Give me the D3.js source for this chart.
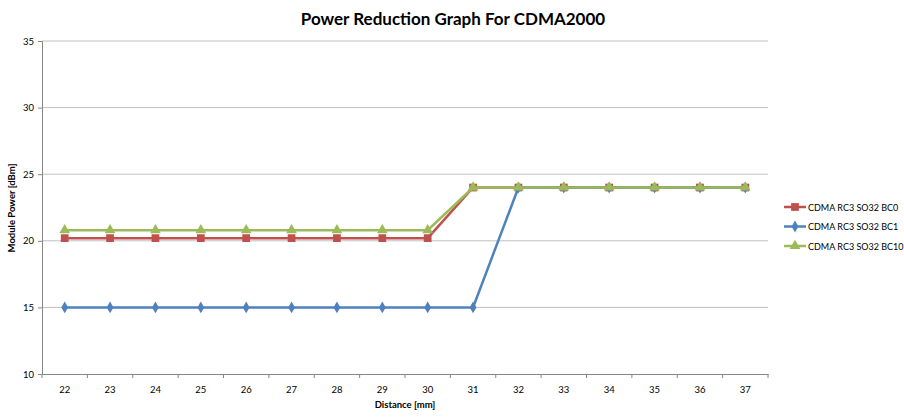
<!DOCTYPE html>
<html><head><meta charset="utf-8">
<script src="https://cdn.jsdelivr.net/npm/d3@7"></script>
<style>body{margin:0;background:#fff}svg{display:block;font-family:Lato,"Open Sans",sans-serif}</style>
</head><body><svg id="c" width="904" height="419"></svg>
<script>
const categories = [22,23,24,25,26,27,28,29,30,31,32,33,34,35,36,37];
const bc0 = [20.2,20.2,20.2,20.2,20.2,20.2,20.2,20.2,20.2,24,24,24,24,24,24,24];
const bc1 = [15,15,15,15,15,15,15,15,15,15,24,24,24,24,24,24];
const bc10 = [20.8,20.8,20.8,20.8,20.8,20.8,20.8,20.8,20.8,24,24,24,24,24,24,24];
const yTicks = [10,15,20,25,30,35];
const seriesNames = ["CDMA RC3 SO32 BC0","CDMA RC3 SO32 BC1","CDMA RC3 SO32 BC10"];
const colors = ["#c0504d","#4f81bd","#9bbb59"];
const shapes = ["square","diamond","triangle"];

const svg = d3.select("#c");
const L=42,R=768,T=41,B=374;
const x = d3.scaleBand().domain(categories).range([L,R]);
const y = d3.scaleLinear().domain([10,35]).range([B,T]);

svg.append("g").selectAll("line").data(yTicks.filter(d=>d>10)).join("line")
 .attr("x1",L).attr("x2",R).attr("y1",d=>y(d)).attr("y2",d=>y(d))
 .attr("stroke","#c0c0c0").attr("stroke-width",1);

const ya = svg.append("g").attr("transform",`translate(${L},0)`)
 .call(d3.axisLeft(y).tickValues(yTicks).tickSize(4).tickPadding(4));
ya.select(".domain").attr("stroke","#868686");
ya.selectAll(".tick line").attr("stroke","#868686");
ya.selectAll("text").attr("font-size",9.5).attr("fill","#000").attr("font-family","Lato,sans-serif");

const xa = svg.append("g").attr("transform",`translate(0,${B})`)
 .call(d3.axisBottom(x).tickSize(0).tickPadding(12));
xa.select(".domain").attr("stroke","#868686");
xa.selectAll("text").attr("font-size",9.5).attr("fill","#000").attr("font-family","Lato,sans-serif");
const bounds = categories.map(c=>x(c)).concat([R]);
xa.append("g").selectAll("line").data(bounds).join("line")
 .attr("x1",d=>d).attr("x2",d=>d).attr("y1",0).attr("y2",4).attr("stroke","#868686");

const cx = d=>x(d)+x.bandwidth()/2;
const data = [bc0,bc1,bc10];
const sym = {square:d3.symbolSquare,diamond:d3.symbolDiamond,triangle:d3.symbolTriangle};
const sizes = {square:60,diamond:40,triangle:50};
const line = d3.line().x((d,i)=>cx(categories[i])).y(d=>y(d));
data.forEach((vals,k)=>{
  const g = svg.append("g");
  g.append("path").datum(vals).attr("d",line).attr("fill","none")
   .attr("stroke",colors[k]).attr("stroke-width",2.5);
  g.selectAll("path.m").data(vals).join("path").attr("class","m")
   .attr("d",d3.symbol().type(sym[shapes[k]]).size(sizes[shapes[k]]))
   .attr("transform",(d,i)=>`translate(${cx(categories[i])},${y(d)})`)
   .attr("fill",colors[k]);
});

const lg = svg.append("g");
seriesNames.forEach((n,k)=>{
  const ly = 207 + k*19.5;
  lg.append("line").attr("x1",784).attr("x2",806).attr("y1",ly).attr("y2",ly)
   .attr("stroke",colors[k]).attr("stroke-width",2.5);
  lg.append("path").attr("d",d3.symbol().type(sym[shapes[k]]).size(sizes[shapes[k]]))
   .attr("transform",`translate(795,${ly})`).attr("fill",colors[k]);
  lg.append("text").attr("x",808).attr("y",ly+3.5).attr("font-size",9).text(n);
});

svg.append("text").attr("x",453).attr("y",25).attr("text-anchor","middle")
 .attr("font-size",17).attr("font-weight","bold").text("Power Reduction Graph For CDMA2000");
svg.append("text").attr("x",405).attr("y",408).attr("text-anchor","middle")
 .attr("font-size",9.5).attr("font-weight","bold").text("Distance  [mm]");
svg.append("text").attr("transform","translate(15,208) rotate(-90)").attr("text-anchor","middle")
 .attr("font-size",9.5).attr("font-weight","bold").text("Module  Power [dBm]");
</script></body></html>
